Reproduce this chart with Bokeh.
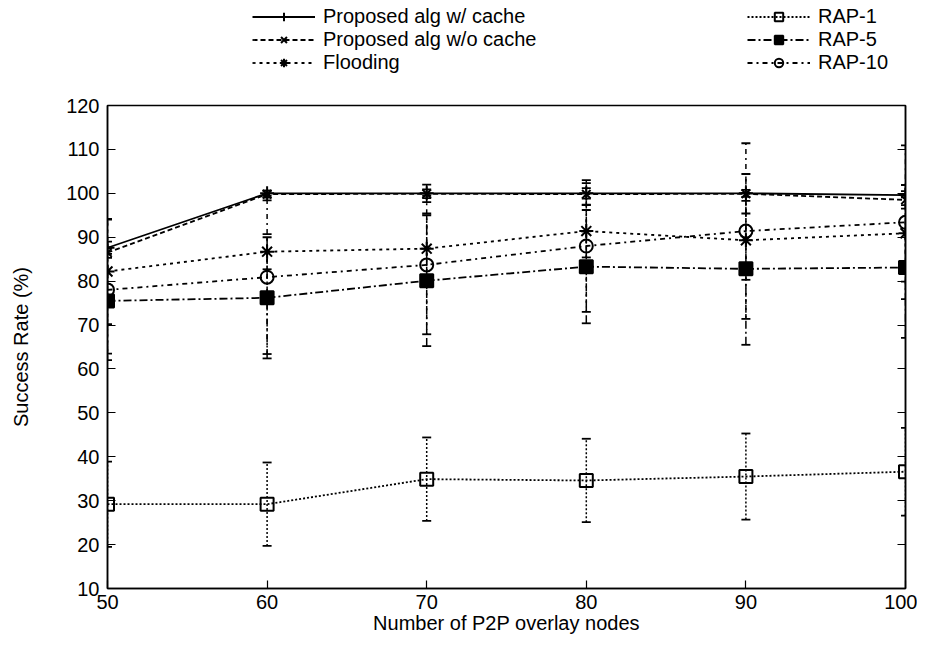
from bokeh.plotting import figure
from bokeh.layouts import column
from bokeh.models import (ColumnDataSource, Whisker, TeeHead, Legend, LegendItem,
                          LinearAxis, Range1d, FixedTicker)
from bokeh.embed import file_html
from bokeh.resources import INLINE

# ---- data ----
nodes = [50, 60, 70, 80, 90, 100]
with_cache = [87.6, 100.0, 100.0, 100.0, 100.0, 99.6]
with_cache_err = [1.4, 0.6, 2.0, 1.2, 0.8, 2.3]
without_cache = [86.5, 99.8, 99.9, 99.8, 99.9, 98.5]
without_cache_err = [1.2, 0.8, 1.0, 2.5, 4.5, 2.0]
flooding = [82.2, 86.7, 87.4, 91.4, 89.3, 90.9]
flooding_err = [12.0, 4.0, 8.0, 6.0, 9.0, 11.0]
rap1 = [29.2, 29.2, 34.9, 34.6, 35.5, 36.6]
rap1_err = [9.7, 9.5, 9.5, 9.5, 9.8, 10.0]
rap5 = [75.5, 76.2, 80.1, 83.3, 82.8, 83.1]
rap5_err = [12.0, 13.8, 14.9, 12.9, 17.3, 16.0]
rap10 = [78.0, 80.9, 83.7, 88.0, 91.4, 93.4]
rap10_err = [16.0, 17.5, 15.8, 15.0, 20.0, 17.5]

x_ticks = [50, 60, 70, 80, 90, 100]
y_ticks = [10, 20, 30, 40, 50, 60, 70, 80, 90, 100, 110, 120]

FONT = "Liberation Sans"
FS = "20px"

p = figure(frame_width=798, frame_height=483, output_backend="svg", toolbar_location=None,
           x_range=Range1d(50, 100), y_range=Range1d(10, 120),
           min_border_left=107, min_border_top=16, min_border_right=12, min_border_bottom=50)
p.grid.visible = False
p.outline_line_color = "black"
p.outline_line_width = 1.5
p.background_fill_color = "white"
p.border_fill_color = "white"

for ax in (p.xaxis[0], p.yaxis[0]):
    ax.major_tick_in = 8
    ax.major_tick_out = 0
    ax.minor_tick_in = 0
    ax.minor_tick_out = 0
    ax.axis_line_width = 1.5
    ax.major_tick_line_width = 1.2
    ax.major_label_text_font = FONT
    ax.major_label_text_font_size = FS
    ax.major_label_text_color = "black"
    ax.axis_label_text_font = FONT
    ax.axis_label_text_font_size = FS
    ax.axis_label_text_font_style = "normal"
    ax.axis_label_text_color = "black"

p.xaxis[0].ticker = FixedTicker(ticks=x_ticks)
p.yaxis[0].ticker = FixedTicker(ticks=y_ticks)
p.xaxis[0].axis_label = "Number of P2P overlay nodes"
p.yaxis[0].axis_label = "Success Rate (%)"
p.xaxis[0].major_label_standoff = 6
p.xaxis[0].axis_label_standoff = 0
p.yaxis[0].major_label_standoff = 8
p.yaxis[0].axis_label_standoff = 31

# mirror ticks on the right side
right_ax = LinearAxis(ticker=FixedTicker(ticks=y_ticks), major_tick_in=8, major_tick_out=0,
                      minor_tick_in=0, minor_tick_out=0,
                      major_label_overrides={t: "" for t in y_ticks},
                      axis_line_width=1.5, major_tick_line_width=1.2)
p.add_layout(right_ax, "right")

series = [
    ("Proposed alg w/ cache", with_cache, with_cache_err, "solid", "cross", 14, 0),
    ("Proposed alg w/o cache", without_cache, without_cache_err, "5 3", "x", 12, 0),
    ("Flooding", flooding, flooding_err, "3 4", "asterisk", 14, 0),
    ("RAP-1", rap1, rap1_err, "2 2", "square", 13, 0),
    ("RAP-5", rap5, rap5_err, "8 3 2 3", "square", 13, 1),
    ("RAP-10", rap10, rap10_err, "5 4 2 4", "circle", 13, 0),
]

# legend lives in its own strip above the plot (its view range holds no data,
# so its renderers only lend their style to the legend samples)
leg = figure(width=917, height=89, output_backend="svg", toolbar_location=None,
             x_axis_location=None, y_axis_location=None,
             x_range=Range1d(0, 1), y_range=Range1d(0, 1),
             min_border_left=0, min_border_right=0, min_border_top=0, min_border_bottom=0)
leg.grid.visible = False
leg.outline_line_color = None

items = []
for label, vals, errs, dash, marker, size, falpha in series:
    src = ColumnDataSource(dict(
        x=nodes, y=vals,
        upper=[v + e for v, e in zip(vals, errs)],
        lower=[v - e for v, e in zip(vals, errs)],
    ))
    w = Whisker(source=src, base="x", upper="upper", lower="lower", dimension="height",
                line_color="black", line_width=1.5, line_dash=dash,
                upper_head=TeeHead(size=9, line_width=1.8, line_color="black"),
                lower_head=TeeHead(size=9, line_width=1.8, line_color="black"))
    p.add_layout(w)
    p.line("x", "y", source=src, line_color="black", line_width=1.8, line_dash=dash)
    p.scatter("x", "y", source=src, marker=marker, size=size, line_color="black",
              line_width=2, fill_color="black", fill_alpha=falpha)
    lr = leg.line("x", "y", source=src, line_color="black", line_width=1.8, line_dash=dash)
    mr = leg.scatter("x", "y", source=src, marker=marker, size=size, line_color="black",
                     line_width=2, fill_color="black", fill_alpha=falpha)
    items.append(LegendItem(label=label, renderers=[lr, mr]))

def make_legend(its, loc):
    return Legend(items=its, location=loc, orientation="vertical",
                  label_text_font=FONT, label_text_font_size=FS, label_text_color="black",
                  glyph_width=63, glyph_height=21, label_height=21, label_standoff=8,
                  spacing=0, padding=0, margin=0,
                  border_line_color=None, background_fill_alpha=0)

leg.add_layout(make_legend(items[:3], (145, 15)))
leg.add_layout(make_legend(items[3:], (640, 15)))

open("out.html", "w").write(file_html(column(leg, p), INLINE))
